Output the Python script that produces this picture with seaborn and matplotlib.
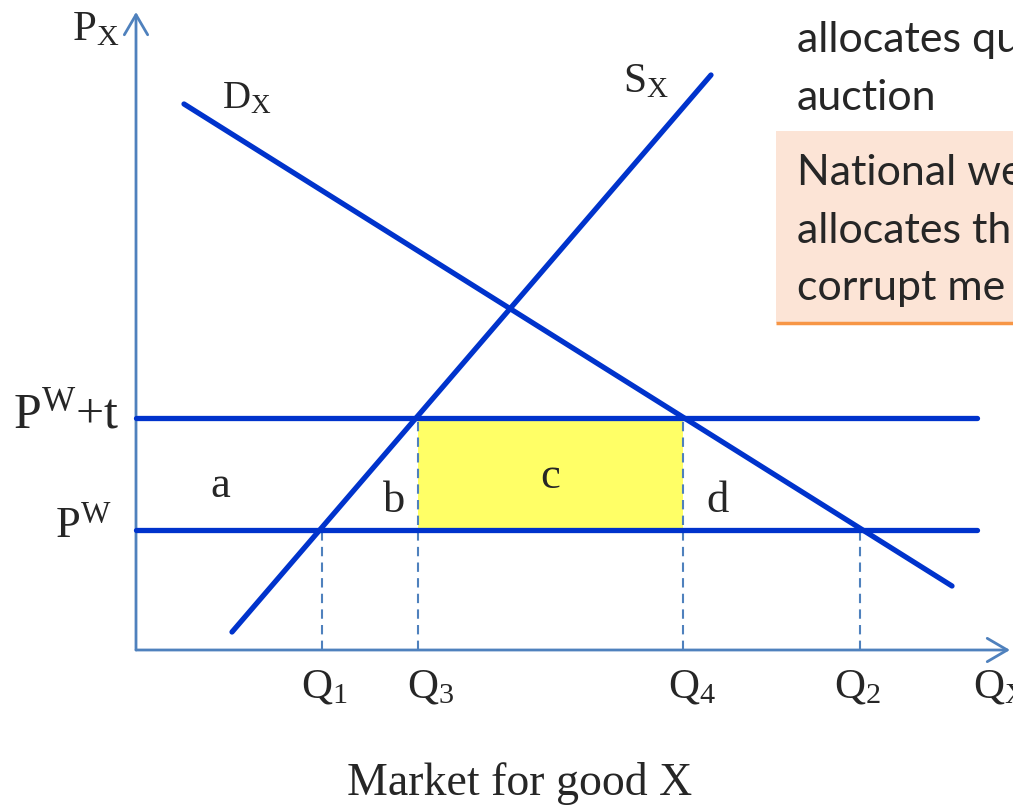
import matplotlib
matplotlib.use("Agg")
import matplotlib.pyplot as plt
import matplotlib.patches as mpatches
import pandas as pd
import seaborn as sns

### Dados do gráfico (unidades arbitrárias, origem no canto dos eixos)
curvas = ["D", "D", "S", "S", "PWt", "PWt", "PW", "PW"]
q_curvas = [48, 816, 96, 575, 0, 841, 0, 841]
p_curvas = [546, 64, 18, 575, 232, 232, 120, 120]

preco_mundial = 120          # P^W
preco_tarifa = 232           # P^W + t
quantidades = {"Q1": 186, "Q3": 282, "Q4": 547, "Q2": 724}
rotulos_q = [r"Q$_{\mathrm{1}}$", r"Q$_{\mathrm{3}}$", r"Q$_{\mathrm{4}}$", r"Q$_{\mathrm{2}}$"]
texto_caixa = ["National we", "allocates th", "corrupt me"]
texto_topo = ["allocates qu", "auction"]

### Estilo
sns.set_theme(style = "white")
plt.rcParams["font.family"] = ["Liberation Serif", "DejaVu Serif"]
plt.rcParams["mathtext.fontset"] = "custom"
plt.rcParams["mathtext.rm"] = "Liberation Serif"
plt.rcParams["mathtext.it"] = "Liberation Serif:italic"

azul = "#0033CC"
azul_eixo = "#4F81BD"

fig = plt.figure(figsize = (10.13, 8.09), dpi = 100)
ax = fig.add_axes([0, 0, 1, 1])
ax.set_xlim(-136, 877)
ax.set_ylim(-159, 650)
ax.axis("off")

### Área c (retângulo amarelo)
ax.fill_between([quantidades["Q3"], quantidades["Q4"]], preco_mundial, preco_tarifa,
                color = "#FFFF66", zorder = 1, lw = 0)

### Curvas de oferta, demanda e preços
df = pd.DataFrame({"curva": curvas, "q": q_curvas, "p": p_curvas})
sns.lineplot(data = df, x = "q", y = "p", units = "curva", estimator = None, sort = False,
             color = azul, lw = 3.8, ax = ax, zorder = 3, legend = False)

### Linhas tracejadas
for nome, q in quantidades.items():
    topo = preco_mundial if nome in ("Q1", "Q2") else preco_tarifa
    ax.plot([q, q], [0, topo], color = azul_eixo, lw = 1.5, dashes = (4.5, 3), zorder = 2)

### Eixos com setas
seta = dict(arrowstyle = "->,head_length=1.2,head_width=0.7", lw = 2, color = azul_eixo,
            shrinkA = 0, shrinkB = 0)
ax.annotate("", xy = (0, 638), xytext = (0, 0), arrowprops = seta, zorder = 2)
ax.annotate("", xy = (874, 0), xytext = (0, 0), arrowprops = seta, zorder = 2)

### Rótulos
ax.text(-64, 610, r"P$_{\mathrm{X}}$", fontsize = 31, va = "baseline", ha = "left")
ax.text(837, -47, r"Q$_{\mathrm{X}}$", fontsize = 31, va = "baseline", ha = "left", clip_on = False)
ax.text(86, 542, r"D$_{\mathrm{X}}$", fontsize = 28, va = "baseline", ha = "left")
ax.text(487, 558, r"S$_{\mathrm{X}}$", fontsize = 30, va = "baseline", ha = "left")
ax.text(-123, 222, r"P$^{\mathrm{W}}$+t", fontsize = 36, va = "baseline", ha = "left")
ax.text(-81, 113, r"P$^{\mathrm{W}}$", fontsize = 32, va = "baseline", ha = "left")
for x, y, letra in [(74, 153, "a"), (247, 138, "b"), (404, 162, "c"), (570, 138, "d")]:
    ax.text(x, y, letra, fontsize = 32, va = "baseline", ha = "left")
for x, rot in zip([165, 271, 532, 698], rotulos_q):
    ax.text(x, -47, rot, fontsize = 31, va = "baseline", ha = "left")
ax.text(384, -145, "Market for good X", fontsize = 33, va = "baseline", ha = "center")

### Caixa de texto à direita
ax.add_patch(mpatches.Rectangle((640, 327), 260, 192, facecolor = "#FCE4D6",
                                edgecolor = "none", zorder = 0, clip_on = False))
ax.plot([640, 900], [327, 327], color = "#F79646", lw = 2.5, solid_capstyle = "butt")
for y, linha in zip([598, 540], texto_topo):
    ax.text(661, y, linha, fontsize = 31, family = ["Lato", "DejaVu Sans"], va = "baseline", ha = "left")
for y, linha in zip([465, 407, 350], texto_caixa):
    ax.text(661, y, linha, fontsize = 31, family = ["Lato", "DejaVu Sans"], va = "baseline", ha = "left")

plt.savefig("out.png", dpi = 100)
